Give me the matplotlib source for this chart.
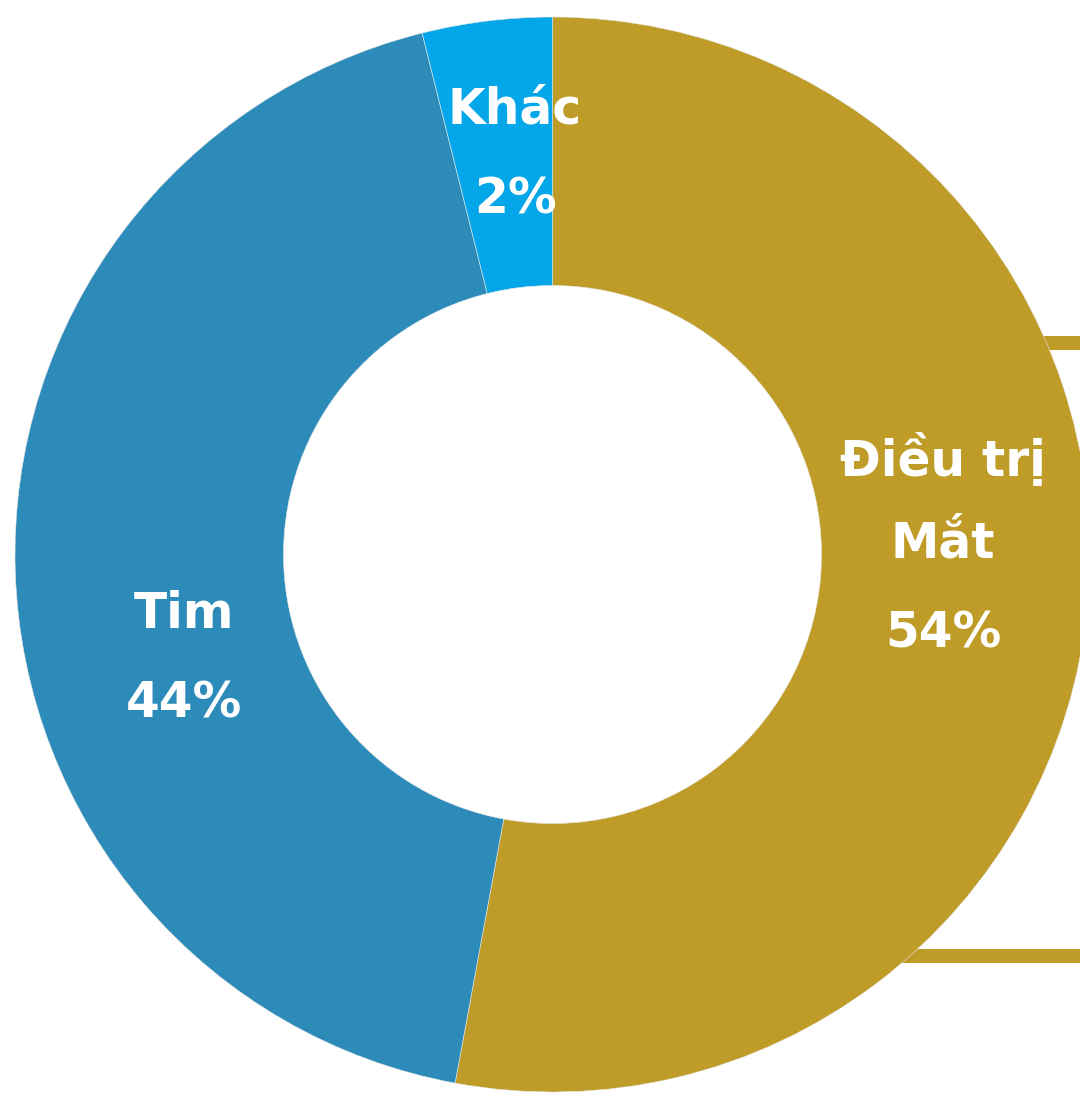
import matplotlib
matplotlib.use("Agg")
import matplotlib.pyplot as plt

# Data
categories = ["Điều trị\nMắt", "Tim", "Khác"]
shares = [52.9, 43.2, 3.9]          # slice sizes
pct_labels = ["54%", "44%", "2%"]   # printed percentages
colors = ["#BF9B27", "#2D8BBA", "#03A6E8"]

W, H = 1080, 1096
fig = plt.figure(figsize=(W / 100, H / 100), dpi=100)
ax = fig.add_axes([0, 0, 1, 1])

def Y(y):
    return H - y

cx, cy = 552.5, Y(554.5)
R = 537.5
ring = 268.5

# gold frame bands behind the donut (extend off the right edge)
for yb in (343, 956):
    ax.plot([820, 1200], [Y(yb), Y(yb)], color=colors[0],
            linewidth=14 * 0.72, solid_capstyle="butt", zorder=0)

wedges, _ = ax.pie(shares, colors=colors, startangle=90, counterclock=False,
                   center=(cx, cy), radius=R,
                   wedgeprops=dict(width=ring, edgecolor="#e8e8e8", linewidth=0.4))
for w in wedges:
    w.set_zorder(2)

fs = 35
tk = dict(color="white", fontsize=fs, fontweight="bold", ha="center",
          va="baseline", family="DejaVu Sans", zorder=5)

# label layout: (center x, baseline y of each line)
label_pos = [(943, [476, 558, 647]), (184, [628, 717]), (515, [124, 213])]
for cat, pct, (x, ys) in zip(categories, pct_labels, label_pos):
    lines = cat.split("\n") + [pct]
    for line, yb in zip(lines, ys):
        ax.text(x, Y(yb), line, **tk)

ax.set_xlim(0, W)
ax.set_ylim(0, H)
ax.set_aspect("equal")
ax.axis("off")

fig.savefig("out.png", dpi=100, facecolor="white")
